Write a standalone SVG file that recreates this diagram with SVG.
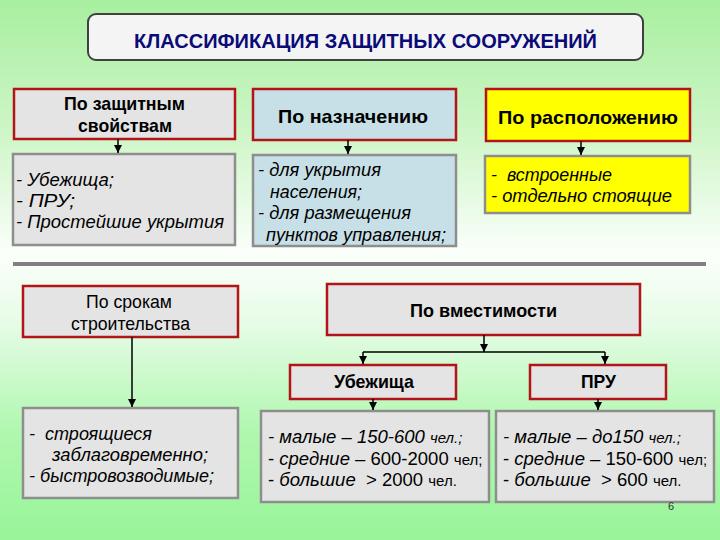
<svg xmlns="http://www.w3.org/2000/svg" width="720" height="540" viewBox="0 0 720 540">
<defs>
<linearGradient id="bg" x1="0" y1="0" x2="0" y2="1">
<stop offset="0" stop-color="#a8efa0"/>
<stop offset="0.25" stop-color="#cff6c8"/>
<stop offset="0.47" stop-color="#fbfffb"/>
<stop offset="0.6" stop-color="#e6fce6"/>
<stop offset="0.8" stop-color="#b0f7b0"/>
<stop offset="1" stop-color="#98f598"/>
</linearGradient>
<marker id="ah" markerWidth="8" markerHeight="8" refX="8" refY="4" orient="auto" markerUnits="userSpaceOnUse">
<path d="M0,0 L8,4 L0,8 z" fill="#000"/>
</marker>
<style>
.hd{stroke:#b3141a;stroke-width:2.5}
.dt{stroke:#8e8e8e;stroke-width:2.5}
.g{fill:#e4e4e4}
.b{fill:#c7dfe6}
.y{fill:#ffff00}
text{font-family:"Liberation Sans",Arial,sans-serif;fill:#000}
.bt{font-size:19px;font-weight:bold}
.rt{font-size:18.5px}
.it{font-size:18.5px;font-style:italic}
.sm{font-size:15px}
.cn{stroke:#000;stroke-width:1.5;fill:none}
</style>
</defs>
<rect width="720" height="540" fill="url(#bg)"/>
<rect x="13" y="262" width="693" height="4" fill="#808080"/>

<g id="title">
<rect x="88" y="14" width="555" height="46" rx="8" fill="#f4f4f4" stroke="#404040" stroke-width="2"/>
<text x="134" y="48" font-size="20" font-weight="bold" style="fill:#0b0b78" textLength="463" lengthAdjust="spacingAndGlyphs">КЛАССИФИКАЦИЯ ЗАЩИТНЫХ СООРУЖЕНИЙ</text>
</g>

<g id="n-protect">
<rect x="14" y="89" width="221" height="50" class="hd g"/>
<text x="64" y="110" class="bt" textLength="121" lengthAdjust="spacingAndGlyphs">По защитным</text>
<text x="78" y="132" class="bt" textLength="94" lengthAdjust="spacingAndGlyphs">свойствам</text>
</g>
<g id="n-purpose">
<rect x="253" y="89" width="203" height="51" class="hd b"/>
<text x="278" y="123" class="bt" textLength="150" lengthAdjust="spacingAndGlyphs">По назначению</text>
</g>
<g id="n-location">
<rect x="486" y="89" width="204" height="52" class="hd y"/>
<text x="498" y="124" class="bt" textLength="180" lengthAdjust="spacingAndGlyphs">По расположению</text>
</g>

<g id="d-protect">
<rect x="13" y="154" width="222" height="91" class="dt g"/>
<text x="16" y="186" class="it" textLength="98" lengthAdjust="spacingAndGlyphs">- Убежища;</text>
<text x="16" y="207" class="it" textLength="59" lengthAdjust="spacingAndGlyphs">- ПРУ;</text>
<text x="16" y="228" class="it" textLength="208" lengthAdjust="spacingAndGlyphs">- Простейшие укрытия</text>
</g>
<g id="d-purpose">
<rect x="253" y="155" width="203" height="91" class="dt b"/>
<text x="258" y="176" class="it" textLength="123" lengthAdjust="spacingAndGlyphs">- для укрытия</text>
<text x="270" y="198" class="it" textLength="92" lengthAdjust="spacingAndGlyphs">населения;</text>
<text x="258" y="219" class="it" textLength="153" lengthAdjust="spacingAndGlyphs">- для размещения</text>
<text x="266" y="241" class="it" textLength="180" lengthAdjust="spacingAndGlyphs">пунктов управления;</text>
</g>
<g id="d-location">
<rect x="485" y="156" width="205" height="57" class="dt y"/>
<text x="491" y="181" class="it" textLength="121" lengthAdjust="spacingAndGlyphs">- &#160;встроенные</text>
<text x="491" y="202" class="it" textLength="181" lengthAdjust="spacingAndGlyphs">- отдельно стоящие</text>
</g>

<g id="n-terms">
<rect x="23" y="286" width="215" height="51" class="hd g"/>
<text x="86" y="308" class="rt" textLength="86" lengthAdjust="spacingAndGlyphs">По срокам</text>
<text x="71" y="330" class="rt" textLength="119" lengthAdjust="spacingAndGlyphs">строительства</text>
</g>
<g id="d-terms">
<rect x="23" y="408" width="215" height="90" class="dt g"/>
<text x="29" y="440" class="it" textLength="123" lengthAdjust="spacingAndGlyphs">- &#160;строящиеся</text>
<text x="52" y="461" class="it" textLength="156" lengthAdjust="spacingAndGlyphs">заблаговременно;</text>
<text x="29" y="482" class="it" textLength="185" lengthAdjust="spacingAndGlyphs">- быстровозводимые;</text>
</g>

<g id="n-capacity">
<rect x="327" y="284" width="313" height="51" class="hd g"/>
<text x="410" y="317" class="bt" textLength="147" lengthAdjust="spacingAndGlyphs">По вместимости</text>
</g>
<g id="n-shelter">
<rect x="290" y="365" width="166" height="34" class="hd g"/>
<text x="334" y="388" class="bt" textLength="80" lengthAdjust="spacingAndGlyphs">Убежища</text>
</g>
<g id="n-pru">
<rect x="530" y="365" width="136" height="34" class="hd g"/>
<text x="581" y="388" class="bt" textLength="35" lengthAdjust="spacingAndGlyphs">ПРУ</text>
</g>

<g id="d-shelter">
<rect x="261" y="411" width="228" height="91" class="dt g"/>
<text x="268" y="443" class="it">- малые – 150-600 <tspan class="sm">чел.;</tspan></text>
<text x="268" y="465" class="rt">- <tspan font-style="italic">средние</tspan> – 600-2000 <tspan class="sm">чел;</tspan></text>
<text x="268" y="486" class="rt">- <tspan font-style="italic">большие</tspan> &#160;&gt; 2000 <tspan class="sm">чел.</tspan></text>
</g>
<g id="d-pru">
<rect x="496" y="411" width="218" height="91" class="dt g"/>
<text x="503" y="443" class="it">- малые – до150 <tspan class="sm">чел.;</tspan></text>
<text x="503" y="465" class="rt">- <tspan font-style="italic">средние</tspan> – 150-600 <tspan class="sm">чел;</tspan></text>
<text x="503" y="486" class="rt">- <tspan font-style="italic">большие</tspan> &#160;&gt; 600 <tspan class="sm">чел.</tspan></text>
</g>

<text x="668" y="510" font-size="11" style="fill:#333">6</text>

<g id="connectors">
<path class="cn" d="M118,139 V153" marker-end="url(#ah)"/>
<path class="cn" d="M348,140 V154" marker-end="url(#ah)"/>
<path class="cn" d="M581,141 V155" marker-end="url(#ah)"/>
<path class="cn" d="M132,337 V407" marker-end="url(#ah)"/>
<path class="cn" d="M484,335 V352" marker-end="url(#ah)"/>
<path class="cn" d="M363,352 H605"/>
<path class="cn" d="M363,352 V364" marker-end="url(#ah)"/>
<path class="cn" d="M605,352 V364" marker-end="url(#ah)"/>
<path class="cn" d="M373,399 V410" marker-end="url(#ah)"/>
<path class="cn" d="M598,399 V410" marker-end="url(#ah)"/>
</g>
</svg>
